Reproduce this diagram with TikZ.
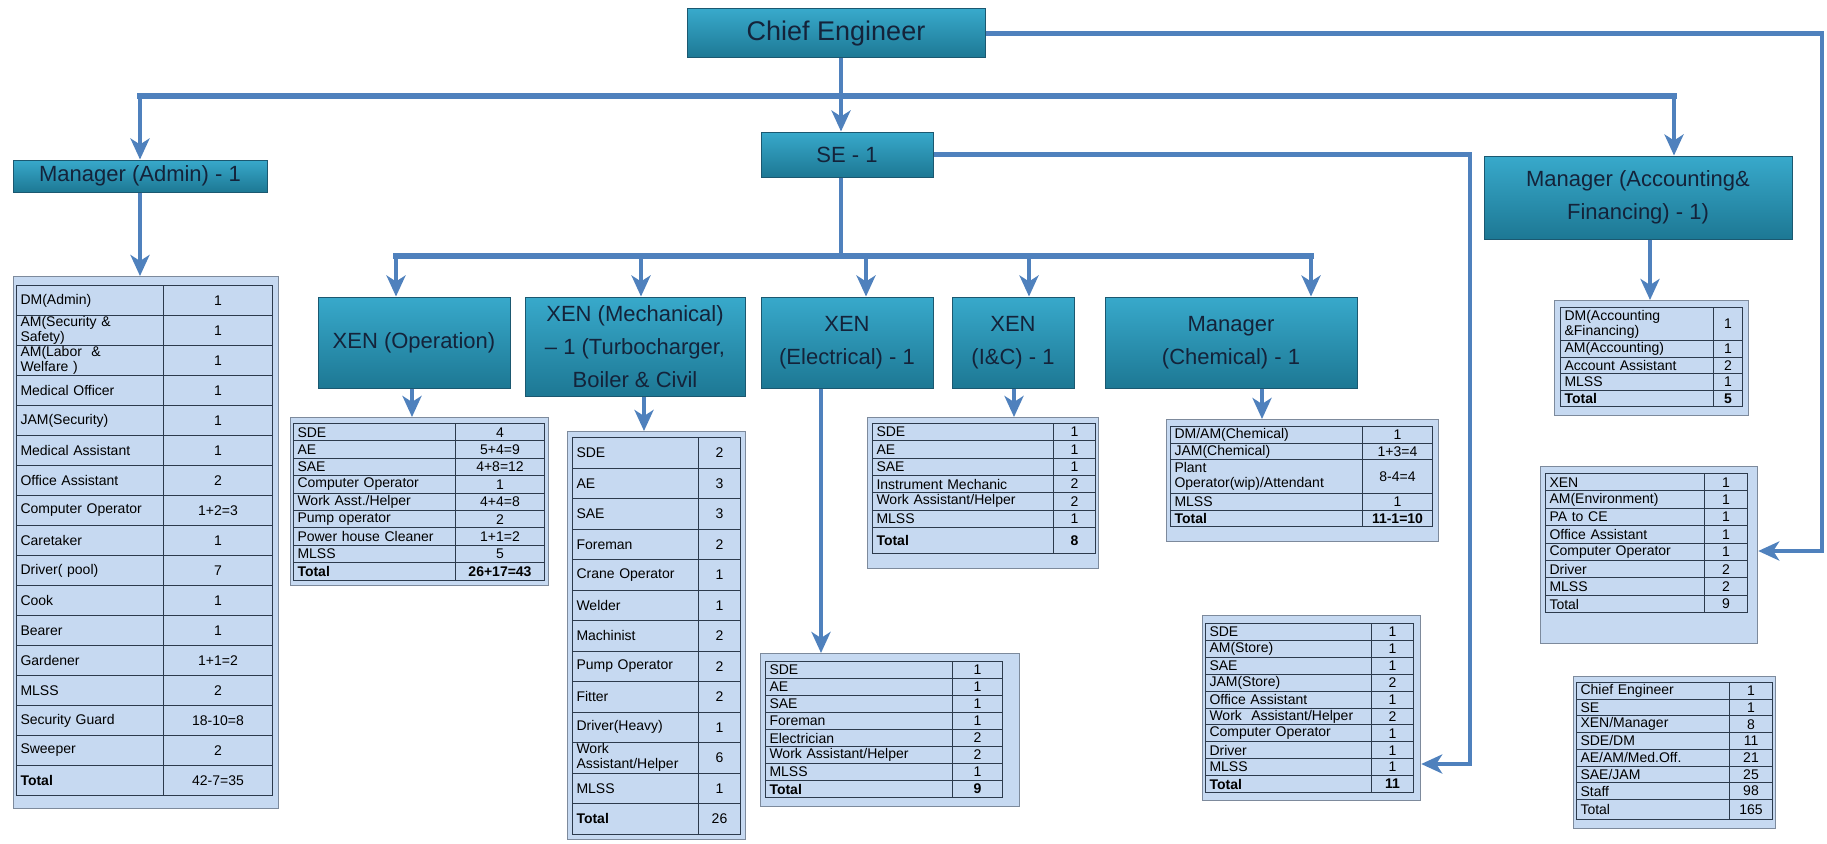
\documentclass[tikz,border=0pt]{standalone}
\usepackage{fontspec}
\setmainfont{Liberation Sans}
\usetikzlibrary{arrows.meta}

\definecolor{linkblue}{HTML}{4F81BD}
\definecolor{posttop}{HTML}{38A9CB}
\definecolor{postbot}{HTML}{1D7894}
\definecolor{postedge}{HTML}{1B5870}
\definecolor{posttext}{HTML}{14233A}
\definecolor{cellfill}{HTML}{C6D9F1}
\definecolor{celledge}{HTML}{2C3A4C}
\definecolor{frameedge}{HTML}{7D8A9C}

\tikzset{
  post/.style={draw=postedge, line width=1pt, top color=posttop, bottom color=postbot,
    text=posttext, font=\fontsize{22}{33}\selectfont, align=center, inner sep=2pt},
  link/.style={draw=linkblue, line width=4.5pt},
  bus/.style={draw=linkblue, line width=6pt, line cap=rect},
  headed/.style={-{Stealth[length=21pt,width=19pt,inset=6pt]}},
  tabframe/.style={draw=frameedge, line width=1.2pt, fill=cellfill, anchor=north west, inner sep=0pt},
  cell/.style={draw=celledge, line width=1pt, fill=cellfill, anchor=north west, inner sep=0pt,
    font=\fontsize{14}{15}\selectfont, text=black},
}

% staff table: name, left, top, label width, count width, row height, rows (label/count/height)
\newcommand\stafftable[7]{%
  \xdef\rowtop{#3}%
  \foreach \lab/\val/\n [count=\i] in {#7} {%
    \pgfmathsetmacro\rowh{\n*#6}%
    \pgfmathsetmacro\labw{#4-8}%
    \node[cell, minimum width=#4, minimum height=\rowh, text width=\labw pt, align=left] (#1-\i-a) at (#2,\rowtop) {\lab};
    \node[cell, minimum width=#5, minimum height=\rowh, align=center] (#1-\i-b) at (#2+#4,\rowtop) {\val};
    \pgfmathsetmacro\rownext{\rowtop+\rowh}%
    \xdef\rowtop{\rownext}%
  }%
}

\begin{document}
\begin{tikzpicture}[x=1pt,y=-1pt]

\useasboundingbox[fill=white] (0,0) rectangle (1827,843);

% posts
\node[post, minimum width=298, minimum height=49, font=\fontsize{27}{30}\selectfont] (ce) at (836,33.5) {Chief Engineer};
\node[post, minimum width=172, minimum height=45] (se) at (847,154.5) {SE - 1};
\node[post, minimum width=254, minimum height=32] (admin) at (140,176) {Manager (Admin) - 1};
\node[post, minimum width=308, minimum height=83] (acc) at (1638,197.5) {Manager (Accounting\&\\Financing) - 1)};
\node[post, minimum width=192, minimum height=91] (op) at (414,342.5) {XEN (Operation)};
\node[post, minimum width=220, minimum height=99] (mech) at (635,346.5) {XEN (Mechanical)\\-- 1 (Turbocharger,\\Boiler \& Civil};
\node[post, minimum width=172, minimum height=91] (elec) at (847,342.5) {XEN\\(Electrical) - 1};
\node[post, minimum width=122, minimum height=91] (ic) at (1013,342.5) {XEN\\(I\&C) - 1};
\node[post, minimum width=252, minimum height=91] (chem) at (1231,342.5) {Manager\\(Chemical) - 1};

% table frames
\node[tabframe, minimum width=265, minimum height=532] (admintab) at (13,276) {};
\node[tabframe, minimum width=258, minimum height=168] (optab) at (290,417) {};
\node[tabframe, minimum width=178, minimum height=408] (mechtab) at (567,431) {};
\node[tabframe, minimum width=259, minimum height=153] (electab) at (760,653) {};
\node[tabframe, minimum width=231, minimum height=151] (ictab) at (867,417) {};
\node[tabframe, minimum width=272, minimum height=122] (chemtab) at (1166,419) {};
\node[tabframe, minimum width=218, minimum height=185] (storetab) at (1202,615) {};
\node[tabframe, minimum width=194, minimum height=115] (acctab) at (1554,300) {};
\node[tabframe, minimum width=217, minimum height=177] (envtab) at (1540,466) {};
\node[tabframe, minimum width=202, minimum height=152] (sumtab) at (1573,676) {};

\stafftable{adm}{16}{285}{147}{109}{30}{{DM(Admin)}/1/1, {AM(Security \&\\Safety)}/1/1,
  {AM(Labor \ \&\\Welfare )}/1/1, {Medical Officer}/1/1, {JAM(Security)}/1/1,
  {Medical Assistant}/1/1, {Office Assistant}/2/1, {Computer Operator}/1+2=3/1,
  {Caretaker}/1/1, {Driver( pool)}/7/1, {Cook}/1/1, {Bearer}/1/1, {Gardener}/1+1=2/1,
  {MLSS}/2/1, {Security Guard}/18-10=8/1, {Sweeper}/2/1, {\textbf{Total}}/42-7=35/1}

\stafftable{opr}{293}{423}{162}{89}{17.4}{{SDE}/4/1, {AE}/5+4=9/1, {SAE}/4+8=12/1,
  {Computer Operator}/1/1, {Work Asst./Helper}/4+4=8/1, {Pump operator}/2/1,
  {Power house Cleaner}/1+1=2/1, {MLSS}/5/1, {\textbf{Total}}/{\textbf{26+17=43}}/1}

\stafftable{mec}{572}{437}{126}{42}{30.5}{{SDE}/2/1, {AE}/3/1, {SAE}/3/1, {Foreman}/2/1,
  {Crane Operator}/1/1, {Welder}/1/1, {Machinist}/2/1, {Pump Operator}/2/1, {Fitter}/2/1,
  {Driver(Heavy)}/1/1, {Work\\Assistant/Helper}/6/1, {MLSS}/1/1, {\textbf{Total}}/26/1}

\stafftable{ele}{765}{661}{187}{50}{17}{{SDE}/1/1, {AE}/1/1, {SAE}/1/1, {Foreman}/1/1,
  {Electrician}/2/1, {Work Assistant/Helper}/2/1, {MLSS}/1/1, {\textbf{Total}}/{\textbf{9}}/1}

\stafftable{inc}{872}{423}{181}{42}{17.3}{{SDE}/1/1, {AE}/1/1, {SAE}/1/1,
  {Instrument Mechanic}/2/1, {Work Assistant/Helper}/2/1, {MLSS}/1/1,
  {\textbf{Total}}/{\textbf{8}}/1.5}

\stafftable{chm}{1170}{426}{192}{70}{16.7}{{DM/AM(Chemical)}/1/1, {JAM(Chemical)}/1+3=4/1,
  {Plant\\Operator(wip)/Attendant}/8-4=4/2, {MLSS}/1/1, {\textbf{Total}}/{\textbf{11-1=10}}/1}

\stafftable{sto}{1205}{623}{166}{42}{16.9}{{SDE}/1/1, {AM(Store)}/1/1, {SAE}/1/1,
  {JAM(Store)}/2/1, {Office Assistant}/1/1, {Work \ Assistant/Helper}/2/1,
  {Computer Operator}/1/1, {Driver}/1/1, {MLSS}/1/1, {\textbf{Total}}/{\textbf{11}}/1}

\stafftable{act}{1560}{307}{153}{29}{16.5}{{DM(Accounting\\\&Financing)}/1/2,
  {AM(Accounting)}/1/1, {Account Assistant}/2/1, {MLSS}/1/1, {\textbf{Total}}/{\textbf{5}}/1}

\stafftable{env}{1545}{473}{159}{43}{17.4}{{XEN}/1/1, {AM(Environment)}/1/1, {PA to CE}/1/1,
  {Office Assistant}/1/1, {Computer Operator}/1/1, {Driver}/2/1, {MLSS}/2/1, {Total}/9/1}

\stafftable{sum}{1576}{682}{153}{43}{16.7}{{Chief Engineer}/1/1, {SE}/1/1, {XEN/Manager}/8/1,
  {SDE/DM}/11/1, {AE/AM/Med.Off.}/21/1, {SAE/JAM}/25/1, {Staff}/98/1, {Total}/165/1.2}

% connectors
\coordinate (topbus) at (841,96);
\coordinate (busL) at (140,96);
\coordinate (busR) at (1674,96);
\coordinate (midbus) at (841,256);
\coordinate (storein) at (1470,764);
\coordinate (envin) at (1822,551);

\draw[link] (topbus |- ce.south) -- (topbus);
\draw[bus] (busL) -- (busR);
\draw[link,headed] (busL) -- (busL |- admin.north);
\draw[link,headed] (busR) -- (busR |- acc.north);
\draw[link,headed] (topbus) -- (topbus |- se.north);
\draw[link] (topbus |- se.south) -- (midbus);
\draw[bus] (396,256) -- (1311,256);
\foreach \x/\b in {396/op, 641/mech, 866/elec, 1029/ic, 1311/chem}
  \draw[link,headed] (\x,256) -- (\x,256 |- \b.north);

\foreach \x/\b/\t in {140/admin/admintab, 1650/acc/acctab, 412/op/optab, 644/mech/mechtab,
  821/elec/electab, 1014/ic/ictab, 1262/chem/chemtab}
  \draw[link,headed] (\x,0 |- \b.south) -- (\x,0 |- \t.north);

\draw[link,headed] (se.east) -| (storein) -- (storein -| storetab.east);
\draw[link,headed] (ce.east) -| (envin) -- (envin -| envtab.east);

\end{tikzpicture}
\end{document}
